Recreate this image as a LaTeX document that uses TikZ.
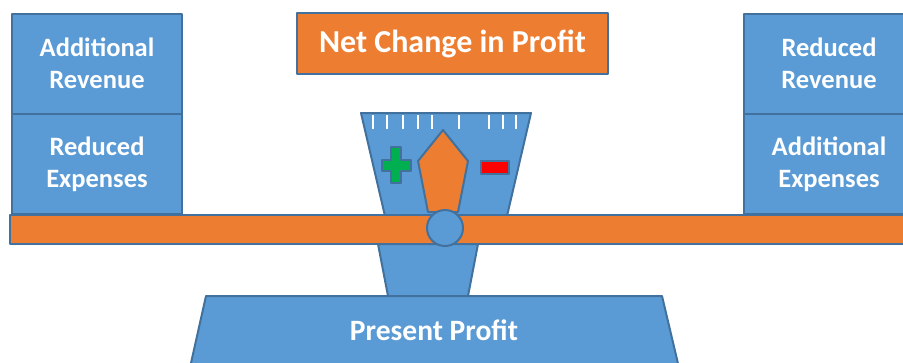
\documentclass[tikz,border=0pt]{standalone}
\usepackage{fontspec}
\setmainfont{Carlito}
\usepackage{tikz}

\definecolor{fillblue}{HTML}{5B9BD5}
\definecolor{edgeblue}{HTML}{41719C}
\definecolor{beamorange}{HTML}{ED7D31}
\definecolor{plusgreen}{HTML}{00B050}

\tikzset{
  part/.style={draw=edgeblue, line width=2pt, line join=round},
  pan/.style={part, fill=fillblue, text=white, align=center, inner sep=0pt,
    minimum width=170pt, minimum height=100pt,
    font=\bfseries\fontsize{26.5}{32}\selectfont},
}

\begin{document}
\begin{tikzpicture}[x=1pt, y=-1pt]
\useasboundingbox (0,0) rectangle (903,362);
\clip (0,0) rectangle (903,362);

% weights on both pans
\node[pan] (addrev) at (97, 63.5) {Additional\\Revenue};
\node[pan] (redexp) at (97, 164) {Reduced\\Expenses};
\node[pan] (redrev) at (829, 63.5) {Reduced\\Revenue};
\node[pan] (addexp) at (829, 164) {Additional\\Expenses};

\node[part, fill=beamorange, text=white, minimum width=311pt, minimum height=61pt,
  font=\bfseries\fontsize{32}{38}\selectfont] (netchange) at (452.5, 43.5) {Net Change in Profit};

% dial
\draw[part, fill=fillblue] (361,113) -- (531,113) -- (507,216) -- (385,216) -- cycle;
\foreach \x in {373, 387, 403, 418, 432, 459, 489, 503, 516}
  \draw[white, line width=2pt] (\x,115) -- (\x,129);
\draw[part, line width=2.5pt, fill=plusgreen]
  (391,147) -- (401,147) -- (401,160) -- (411,160) -- (411,171) -- (401,171)
  -- (401,183) -- (391,183) -- (391,171) -- (382,171) -- (382,160) -- (391,160) -- cycle;
\draw[part, line width=2.5pt, fill=red] (481,161) rectangle (509,174);
\draw[part, fill=beamorange] (443,130) -- (468,161) -- (458,212) -- (428,212) -- (418,161) -- cycle;

% stand
\draw[part, fill=fillblue] (378,244) -- (478,244) -- (468,296) -- (388,296) -- cycle;
\draw[part, fill=fillblue] (206,296) -- (662,296) -- (680,372) -- (189,372) -- cycle;
\node[text=white, font=\bfseries\fontsize{29.5}{36}\selectfont] (profit) at (434,330) {Present Profit};

% beam and pivot
\draw[part, fill=beamorange] (10,215) rectangle (915,244);
\draw[part, fill=fillblue] (445,228) circle (18pt);
\end{tikzpicture}
\end{document}
